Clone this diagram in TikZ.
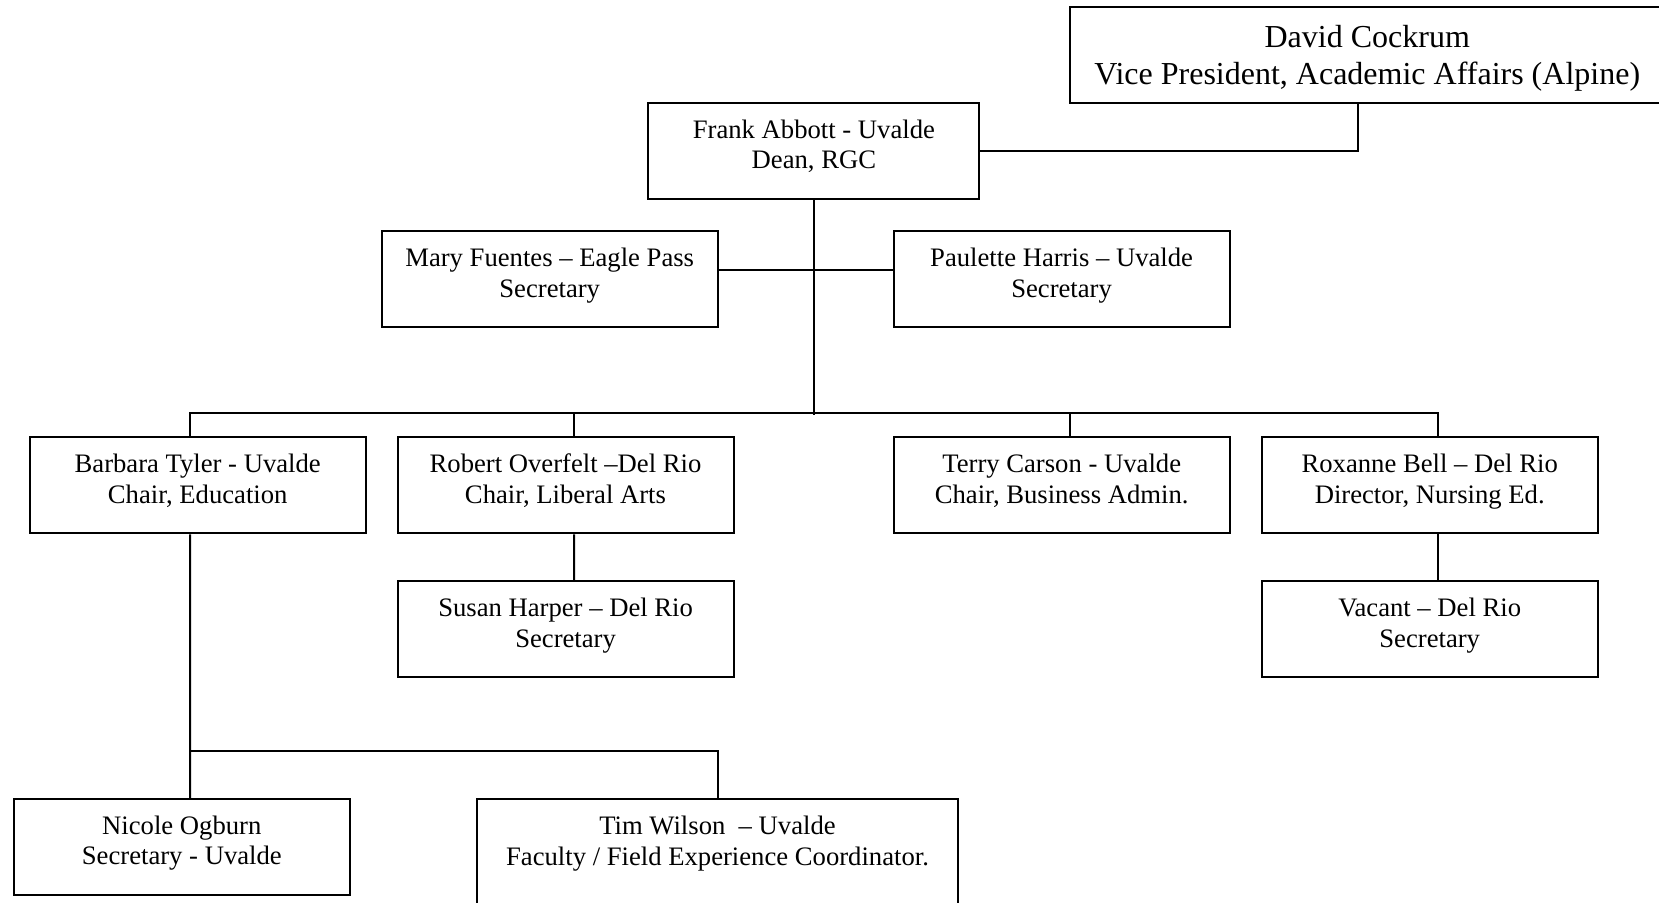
\documentclass[tikz,border=0pt]{standalone}
\usepackage{fontspec}
\setmainfont{Liberation Serif}
\usepackage{tikz}
\usetikzlibrary{calc}

\begin{document}
\begin{tikzpicture} [x=0.5pt, y=-0.5pt, line width=1pt,
  box/.style={draw, align=center, inner sep=0pt, minimum width=168pt, minimum height=48pt,
    text height=26pt, text depth=8pt, font=\fontsize{13.33}{15.35}\selectfont},
  topbox/.style={box, text height=31pt, text depth=1.4pt, font=\fontsize{16}{18.5}\selectfont}]%RGC chart
\useasboundingbox [fill=white] (0,0) rectangle (1659,902);
  \node [topbox, minimum width=297.75pt] (david) at (1367.25,54.5) {David Cockrum\\Vice President, Academic Affairs (Alpine)};
  \node [box, minimum width=165.5pt] (frank) at (813.9,150.7) {Frank Abbott - Uvalde\\Dean, RGC};
  \node [box] (mary) at (549.7,279.2) {Mary Fuentes – Eagle Pass\\Secretary};
  \node [box] (paulette) at (1061.6,279.2) {Paulette Harris – Uvalde\\Secretary};
  \node [box] (barbara) at (197.7,485.3) {Barbara Tyler - Uvalde\\Chair, Education};
  \node [box] (robert) at (565.5,485.3) {Robert Overfelt –Del Rio\\Chair, Liberal Arts};
  \node [box] (terry) at (1061.7,485.3) {Terry Carson - Uvalde\\Chair, Business Admin.};
  \node [box] (roxanne) at (1429.7,485.3) {Roxanne Bell – Del Rio\\Director, Nursing Ed.};
  \node [box] (susan) at (565.6,629.2) {Susan Harper – Del Rio\\Secretary};
  \node [box] (vacant) at (1429.7,629.2) {Vacant – Del Rio\\Secretary};
  \node [box] (nicole) at (181.8,846.8) {Nicole Ogburn\\Secretary - Uvalde};
  \node [box, minimum width=240.2pt, minimum height=55pt, text depth=14.7pt] (tim) at (717.5,853.7) {Tim Wilson\ \ – Uvalde\\Faculty / Field Experience Coordinator.};
  \coordinate (bus) at (813.9,413.3);
  \coordinate (split) at (190,750.7);
%  links
  \draw ([xshift=-4.6pt]david.south) |- (frank.east);
  \draw ([yshift=4.6pt]mary.east) -- ([yshift=4.6pt]paulette.west);
  \draw (frank.south) -- ([yshift=-1pt]bus);
  \draw ([xshift=-3.85pt]barbara.north) |- (bus) -| ([xshift=4pt]roxanne.north);
  \draw ([xshift=4.25pt]robert.north) -- ([xshift=4.25pt]robert.north |- bus);
  \draw ([xshift=4pt]terry.north) -- ([xshift=4pt]terry.north |- bus);
  \draw ([xshift=4.25pt]robert.south) -- ([xshift=4.25pt]susan.north);
  \draw ([xshift=4pt]roxanne.south) -- ([xshift=4pt]vacant.north);
  \draw ([xshift=-3.85pt]barbara.south) -- ([xshift=4.1pt]nicole.north);
  \draw (split) -| (tim.north);
 \end{tikzpicture}
\end{document}
